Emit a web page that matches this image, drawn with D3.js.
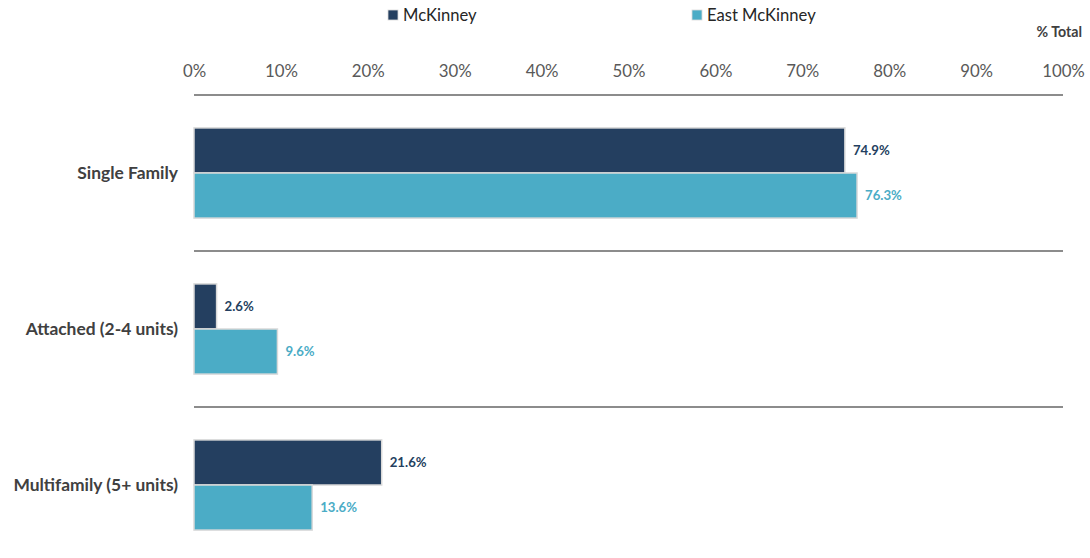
<!DOCTYPE html>
<html><head><meta charset="utf-8">
<script src="https://cdn.jsdelivr.net/npm/d3@7"></script>
<style>body{margin:0;background:#fff;} svg{display:block;font-family:Lato,"Open Sans",sans-serif;}</style>
</head><body>
<svg id="c" width="1090" height="558"></svg>
<script>
const categories = ["Single Family", "Attached (2-4 units)", "Multifamily (5+ units)"];
const seriesNames = ["McKinney", "East McKinney"];
const mckinney = [74.9, 2.6, 21.6];
const eastMckinney = [76.3, 9.6, 13.6];
const ticks = [0,10,20,30,40,50,60,70,80,90,100];
const colors = ["#243F60", "#4BACC6"];

const svg = d3.select("#c");
const x = d3.scaleLinear().domain([0,100]).range([194,1063]);
const y = d3.scaleBand().domain(categories).range([95,563]).paddingInner(0).paddingOuter(0);
const inner = d3.scaleBand().domain(seriesNames).range([0, y.bandwidth()]).paddingOuter(0.73).paddingInner(0);

// axis tick labels on top
const ax = svg.append("g").attr("transform","translate(0,71)")
  .call(d3.axisTop(x).tickValues(ticks).tickFormat(d=>d+"%").tickSize(0).tickPadding(0));
ax.select(".domain").remove();
ax.selectAll("text").attr("dy","0.35em").attr("fill","#595959").style("font-size","16.8px").style("font-family","Lato,'Open Sans',sans-serif");

// separators
svg.append("g").selectAll("line").data(categories).join("line")
  .attr("x1",x(0)).attr("x2",x(100))
  .attr("y1",d=>y(d)).attr("y2",d=>y(d))
  .attr("stroke","#8c8c8c").attr("stroke-width",2);

const data = categories.map((c,i)=>({cat:c, vals:[mckinney[i], eastMckinney[i]]}));
const g = svg.append("g").selectAll("g").data(data).join("g").attr("transform",d=>`translate(0,${y(d.cat)})`);
g.selectAll("rect").data(d=>d.vals.map((v,j)=>({v,s:seriesNames[j],j}))).join("rect")
  .attr("x",x(0)).attr("y",d=>inner(d.s)).attr("width",d=>x(d.v)-x(0)).attr("height",inner.bandwidth())
  .attr("fill",d=>colors[d.j]).attr("stroke","#d9d9d9").attr("stroke-width",1.5);
g.selectAll("text.v").data(d=>d.vals.map((v,j)=>({v,s:seriesNames[j],j}))).join("text").attr("class","v")
  .attr("x",d=>x(d.v)+8).attr("y",d=>inner(d.s)+inner.bandwidth()/2).attr("dy","0.35em")
  .attr("fill",d=>colors[d.j]).style("font-size","13.2px").style("font-weight","bold")
  .text(d=>d.v.toFixed(1)+"%");

// category labels
svg.append("g").selectAll("text").data(categories).join("text")
  .attr("x",178).attr("y",d=>y(d)+y.bandwidth()/2).attr("dy","0.35em").attr("text-anchor","end")
  .attr("fill","#404040").style("font-size","17.4px").style("font-weight","bold").text(d=>d);

// legend
const legX = [388, 692];
const leg = svg.append("g").selectAll("g").data(seriesNames).join("g").attr("transform",(d,i)=>`translate(${legX[i]},0)`);
leg.append("rect").attr("x",0).attr("y",10).attr("width",10).attr("height",10).attr("fill",(d,i)=>colors[i]).attr("stroke","#d9d9d9").attr("stroke-width",0.8);
leg.append("text").attr("x",15).attr("y",15).attr("dy","0.35em").attr("fill","#262626").style("font-size","16.6px").text(d=>d);

svg.append("text").attr("x",1082).attr("y",32).attr("dy","0.35em").attr("text-anchor","end")
  .attr("fill","#404040").style("font-size","14.2px").style("font-weight","bold").text("% Total");
</script>
</body></html>
